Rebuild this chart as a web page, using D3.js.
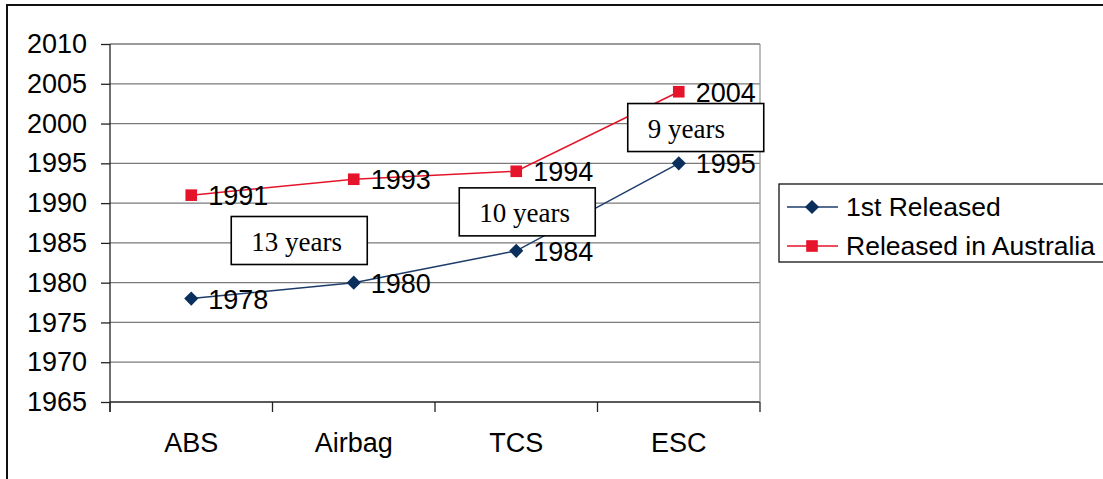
<!DOCTYPE html>
<html>
<head>
<meta charset="utf-8">
<script src="https://cdn.jsdelivr.net/npm/d3@7"></script>
<style>
  body { margin: 0; background: #fff; }
</style>
</head>
<body>
<svg id="chart"></svg>
<script>
// data
var categories = ["ABS", "Airbag", "TCS", "ESC"];
var firstReleased = [1978, 1980, 1984, 1995];
var releasedAus = [1991, 1993, 1994, 2004];
var yTicks = [1965, 1970, 1975, 1980, 1985, 1990, 1995, 2000, 2005, 2010];
var seriesNames = ["1st Released", "Released in Australia"];

// gap annotations: category, pixel shift from it, year at box centre
var gapLabels = ["13 years", "10 years", "9 years"];
var gapCats = ["ABS", "TCS", "ESC"];
var gapShift = [108, 11, 17];
var gapYears = [1985.3, 1988.9, 1999.5];

var width = 1103, height = 479;
var sans = "Liberation Sans, Arial, sans-serif";
var serif = "Liberation Serif, Times New Roman, serif";
var fs = "27px";

var blue = "#1c3c6a", blueMark = "#0b2f5c", red = "#e5142a";

var svg = d3.select("svg#chart")
  .attr("width", width)
  .attr("height", height)
  .style("font-family", sans);

// outer chart frame (runs off the right and bottom edges)
svg.append("rect")
  .attr("x", 7).attr("y", 5)
  .attr("width", 1200).attr("height", 600)
  .attr("fill", "none")
  .attr("stroke", "#111")
  .attr("stroke-width", 2);

var x = d3.scaleBand()
  .domain(categories)
  .range([110, 760]);

var y = d3.scaleLinear()
  .domain([1965, 2010])
  .range([402, 44]);

// gridlines
svg.append("g")
  .selectAll("line")
  .data(yTicks)
  .enter().append("line")
  .attr("x1", x.range()[0]).attr("x2", x.range()[1])
  .attr("y1", d => y(d)).attr("y2", d => y(d))
  .attr("stroke", d => d == 1965 ? "#222" : "#7a7a7a")
  .attr("stroke-width", 1.3);

// right border of plot area
svg.append("line")
  .attr("x1", x.range()[1]).attr("x2", x.range()[1])
  .attr("y1", y(2010)).attr("y2", y(1965))
  .attr("stroke", "#9a9a9a")
  .attr("stroke-width", 1.3);

// y axis
var yAxis = d3.axisLeft(y)
  .tickValues(yTicks)
  .tickFormat(d3.format("d"))
  .tickSize(9)
  .tickPadding(14);

var gy = svg.append("g")
  .attr("transform", "translate(" + x.range()[0] + ",0)")
  .call(yAxis);
gy.select(".domain").remove();
gy.selectAll(".tick line").attr("stroke", "#222").attr("stroke-width", 1.3);
gy.selectAll(".tick text")
  .style("font-family", sans)
  .style("font-size", fs)
  .attr("fill", "#000");
gy.append("line")
  .attr("x1", 0).attr("x2", 0)
  .attr("y1", y(2010)).attr("y2", y(1965) + 10)
  .attr("stroke", "#222").attr("stroke-width", 1.3);

// x axis: ticks at band edges
var edges = categories.map(c => x(c)).concat([x.range()[1]]);
svg.append("g")
  .selectAll("line")
  .data(edges)
  .enter().append("line")
  .attr("x1", d => d).attr("x2", d => d)
  .attr("y1", y(1965)).attr("y2", y(1965) + 10)
  .attr("stroke", "#222").attr("stroke-width", 1.3);

svg.append("g")
  .selectAll("text")
  .data(categories)
  .enter().append("text")
  .attr("x", d => x(d) + x.bandwidth() / 2)
  .attr("y", 452)
  .attr("text-anchor", "middle")
  .style("font-size", fs)
  .text(d => d);

var cx = d => x(d) + x.bandwidth() / 2;
var line = d3.line().x(d => cx(d.cat)).y(d => y(d.v));

var series = [
  {name: seriesNames[0], values: firstReleased, color: blue, mark: blueMark, shape: d3.symbolSquare, size: 100, rot: 45},
  {name: seriesNames[1], values: releasedAus, color: red, mark: red, shape: d3.symbolSquare, size: 135, rot: 0}
];

series.forEach(function(s) {
  var pts = categories.map((c, i) => ({cat: c, v: s.values[i]}));
  var g = svg.append("g");
  g.append("path")
    .attr("d", line(pts))
    .attr("fill", "none")
    .attr("stroke", s.color)
    .attr("stroke-width", 1.5);
  g.selectAll("path.pt")
    .data(pts)
    .enter().append("path")
    .attr("class", "pt")
    .attr("d", d3.symbol().type(s.shape).size(s.size))
    .attr("transform", d => "translate(" + cx(d.cat) + "," + y(d.v) + ") rotate(" + s.rot + ")")
    .attr("fill", s.mark);
  g.selectAll("text")
    .data(pts)
    .enter().append("text")
    .attr("x", d => cx(d.cat) + 17)
    .attr("y", d => y(d.v) + 10)
    .style("font-size", fs)
    .text(d => d.v);
});

// gap annotation boxes
gapLabels.forEach(function(t, i) {
  var bx = cx(gapCats[i]) + gapShift[i] - 68;
  var by = y(gapYears[i]) - 24;
  var g = svg.append("g");
  g.append("rect")
    .attr("x", bx).attr("y", by)
    .attr("width", 136).attr("height", 48)
    .attr("fill", "#fff")
    .attr("stroke", "#000")
    .attr("stroke-width", 1.6);
  g.append("text")
    .attr("x", bx + 20).attr("y", by + 34)
    .style("font-family", serif)
    .style("font-size", "27px")
    .text(t);
});

// legend
var legend = svg.append("g").attr("transform", "translate(779,184)");
legend.append("rect")
  .attr("width", 340).attr("height", 78)
  .attr("fill", "#fff")
  .attr("stroke", "#111")
  .attr("stroke-width", 1.3);
series.forEach(function(s, i) {
  var row = legend.append("g").attr("transform", "translate(0," + (23 + i * 39) + ")");
  row.append("line")
    .attr("x1", 8).attr("x2", 59)
    .attr("stroke", s.color).attr("stroke-width", 1.5);
  row.append("path")
    .attr("d", d3.symbol().type(s.shape).size(s.size))
    .attr("transform", "translate(33,0) rotate(" + s.rot + ")")
    .attr("fill", s.mark);
  row.append("text")
    .attr("x", 67).attr("y", 9)
    .style("font-size", "26.5px")
    .text(s.name);
});
</script>
</body>
</html>
